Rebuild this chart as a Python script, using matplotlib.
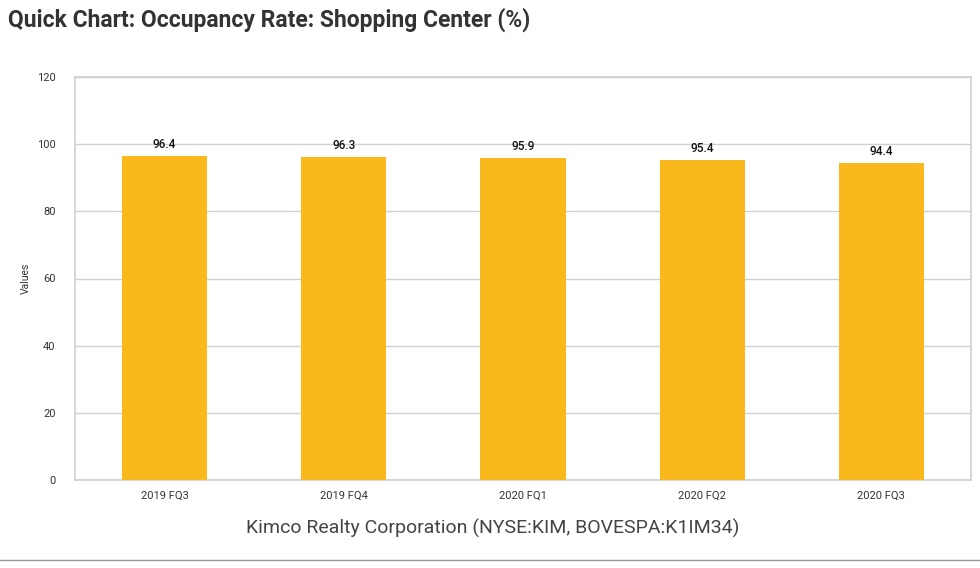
import matplotlib
matplotlib.use("Agg")
import matplotlib.pyplot as plt
from matplotlib.lines import Line2D

# Data
quarters = ["2019 FQ3", "2019 FQ4", "2020 FQ1", "2020 FQ2", "2020 FQ3"]
occupancy = [96.4, 96.3, 95.9, 95.4, 94.4]
y_ticks = [0, 20, 40, 60, 80, 100, 120]

BAR = "#F9B81C"
GRID = "#d0d0d0"
W, H = 980, 568

plt.rcParams["font.family"] = ["Roboto", "DejaVu Sans"]

fig = plt.figure(figsize=(W / 100, H / 100), dpi=100)
ax = fig.add_axes([75 / W, 1 - 480 / H, (971 - 75) / W, (480 - 77) / H])

x = range(len(quarters))
ax.bar(x, occupancy, width=0.475, color=BAR, zorder=3)
for i, v in zip(x, occupancy):
    ax.text(i, v + 1.5, f"{v:.1f}", ha="center", va="bottom",
            fontsize=8.5, color="#111111", fontweight="medium", zorder=4)

ax.set_xlim(-0.5, len(quarters) - 0.5)
ax.set_ylim(0, 120)
ax.set_yticks(y_ticks)
ax.set_xticks(list(x))
ax.set_xticklabels(quarters)
ax.tick_params(axis="both", length=0, labelsize=8, colors="#333333")
ax.tick_params(axis="y", pad=14)
ax.tick_params(axis="x", pad=8)
ax.yaxis.grid(True, color=GRID, linewidth=1, zorder=0)
for s in ax.spines.values():
    s.set_color(GRID)
    s.set_linewidth(1.2)

ax.set_ylabel("Values", fontsize=7.5, color="#333333", labelpad=4)
fig.text(493 / W, 1 - 528 / H, "Kimco Realty Corporation (NYSE:KIM, BOVESPA:K1IM34)",
         fontsize=14, color="#444444", ha="center", va="center")

fig.text(8 / W, 1 - 20 / H, "Quick Chart: Occupancy Rate: Shopping Center (%)",
         fontsize=16.5, fontweight="bold", color="#333333", va="center", ha="left")

fig.add_artist(Line2D([0, 1], [1 - 560 / H, 1 - 560 / H], transform=fig.transFigure,
                      color="#999999", linewidth=1))

fig.savefig("out.png", dpi=100)
